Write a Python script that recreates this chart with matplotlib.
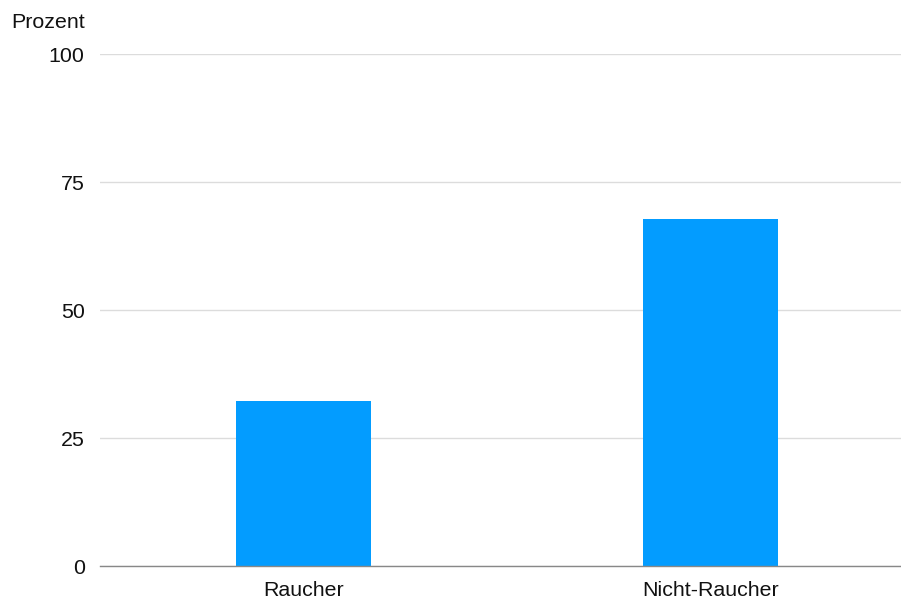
import matplotlib
matplotlib.use("Agg")
import matplotlib.pyplot as plt

categories = ["Raucher", "Nicht-Raucher"]
values = [32.2, 67.8]
y_ticks = [0, 25, 50, 75, 100]
y_label = "Prozent"

plt.rcParams["font.family"] = ["Liberation Sans", "DejaVu Sans"]
FS = 15.4

W, H = 901, 601
fig = plt.figure(figsize=(W / 100, H / 100), dpi=100)
left, right, top, bottom = 100, 901, 54, 566
ax = fig.add_axes([left / W, 1 - bottom / H, (right - left) / W, (bottom - top) / H])

x = list(range(len(categories)))
ax.bar(x, values, width=0.332, color="#039CFF", zorder=3)

ax.set_xlim(-0.5, 1.468)
ax.set_ylim(0, 100)
ax.set_yticks(y_ticks)
ax.set_yticklabels([str(t) for t in y_ticks])
ax.set_xticks(x)
ax.set_xticklabels(categories)
ax.tick_params(axis="both", length=0, labelsize=FS, colors="#111111")
ax.tick_params(axis="y", pad=11)
ax.tick_params(axis="x", pad=11)

ax.grid(axis="y", color="#dcdcdc", linewidth=1, zorder=0)
ax.grid(axis="x", visible=False)
for side in ("left", "right", "top"):
    ax.spines[side].set_visible(False)
ax.spines["bottom"].set_color("#888888")
ax.spines["bottom"].set_linewidth(1)
ax.spines["bottom"].set_zorder(4)

fig.text(85 / W, 1 - 22 / H, y_label, ha="right", va="center", fontsize=FS, color="#111111")

fig.savefig("out.png", dpi=100)
